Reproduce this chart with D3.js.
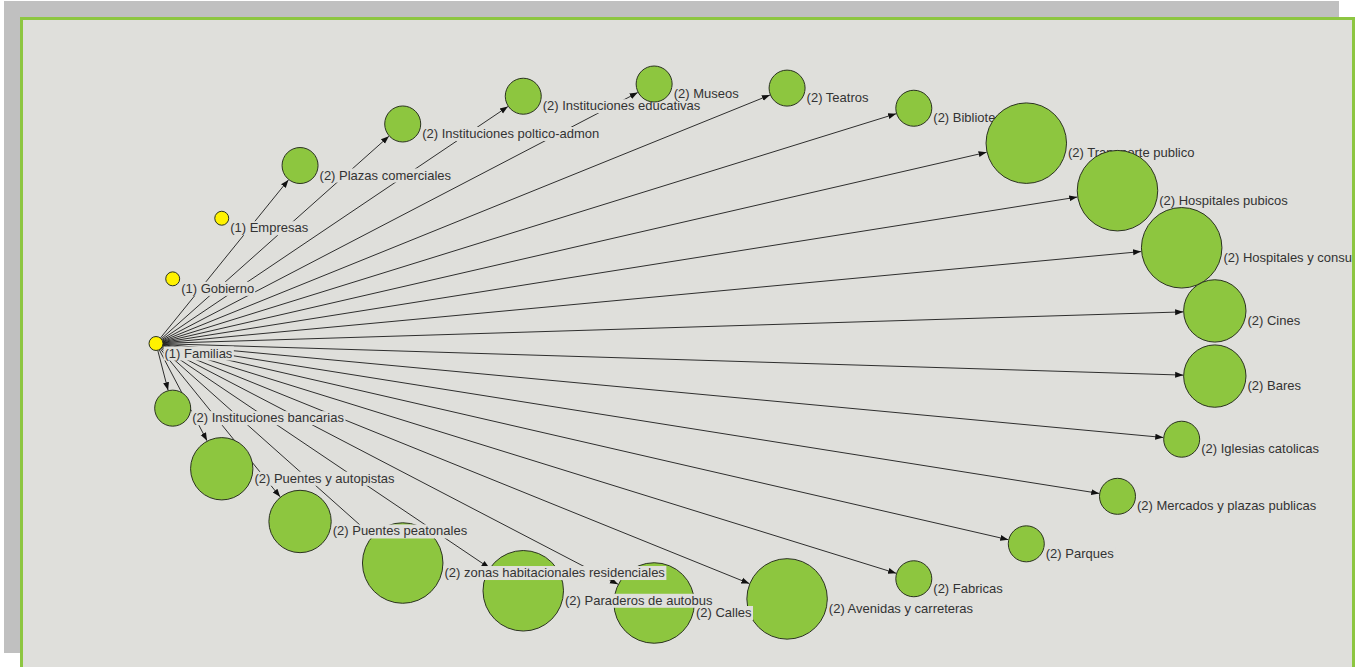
<!DOCTYPE html>
<html><head><meta charset="utf-8">
<script src="https://cdn.jsdelivr.net/npm/d3@7"></script>
<style>html,body{margin:0;padding:0;background:#fff;overflow:hidden}</style>
</head><body><svg id="c" width="1357" height="667"></svg>
<script>
// Nodes in circular-layout order (clockwise starting at the left)
const nodeNames = [
  "Familias","Instituciones bancarias","Puentes y autopistas","Puentes peatonales",
  "zonas habitacionales residenciales","Paraderos de autobus","Calles","Avenidas y carreteras",
  "Fabricas","Parques","Mercados y plazas publicas","Iglesias catolicas","Bares","Cines",
  "Hospitales y consultorios","Hospitales pubicos","Transporte publico","Bibliotecas",
  "Teatros","Museos","Instituciones educativas","Instituciones poltico-admon",
  "Plazas comerciales","Empresas","Gobierno"
];
const nodeGroups = [1,2,2,2,2,2,2,2,2,2,2,2,2,2,2,2,2,2,2,2,2,2,2,1,1];
const nodeSizes  = [0.15,1,3,3,5,5,5,5,1,1,1,1,3,3,5,5,5,1,1,1,1,1,1,0.15,0.15];
const linkSource = "Familias";
const linkTargets = [
  "Instituciones bancarias","Puentes y autopistas","Puentes peatonales",
  "zonas habitacionales residenciales","Paraderos de autobus","Calles","Avenidas y carreteras",
  "Fabricas","Parques","Mercados y plazas publicas","Iglesias catolicas","Bares","Cines",
  "Hospitales y consultorios","Hospitales pubicos","Transporte publico","Bibliotecas",
  "Teatros","Museos","Instituciones educativas","Instituciones poltico-admon","Plazas comerciales"
];

const svg = d3.select("#c");
const W = 1357, H = 667;

// frame
svg.append("rect").attr("x",4).attr("y",1).attr("width",1335).attr("height",652).attr("fill","#c0c0c0");
svg.append("rect").attr("x",21.5).attr("y",18.5).attr("width",1332).attr("height",700)
  .attr("fill","#dfdfdb").attr("stroke","#8dc641").attr("stroke-width",3);

svg.append("defs").append("clipPath").attr("id","clip")
  .append("rect").attr("x",23).attr("y",20).attr("width",1329).attr("height",660);

svg.select("defs").append("marker").attr("id","arr")
  .attr("viewBox","0 -4 8 8").attr("refX",8).attr("refY",0)
  .attr("markerWidth",8).attr("markerHeight",8).attr("markerUnits","userSpaceOnUse")
  .attr("orient","auto")
  .append("path").attr("d","M0,-3L8,0L0,3Z").attr("fill","#111");

const g = svg.append("g").attr("clip-path","url(#clip)");

const n = nodeNames.length;
const xScale = d3.scaleLinear().domain([-1,1]).range([156,1219]);
const yScale = d3.scaleLinear().domain([-1,1]).range([83.5,603.5]);
const rScale = d3.scaleSqrt().domain([0,1]).range([0,18]);
const color = d3.scaleOrdinal().domain([1,2]).range(["#fff200","#8dc63f"]);

const nodes = nodeNames.map((name,i)=>{
  const th = Math.PI - i*2*Math.PI/n;
  return {name, i, group:nodeGroups[i], r:rScale(nodeSizes[i]),
          x:xScale(Math.cos(th)), y:yScale(Math.sin(th))};
});
const byName = new Map(nodes.map(d=>[d.name,d]));

const links = linkTargets.map(t=>({s:byName.get(linkSource), t:byName.get(t)}));

g.append("g").selectAll("line").data(links).join("line")
  .each(function(d){
    const dx=d.t.x-d.s.x, dy=d.t.y-d.s.y, L=Math.hypot(dx,dy);
    const ux=dx/L, uy=dy/L;
    d3.select(this)
      .attr("x1",d.s.x+ux*d.s.r).attr("y1",d.s.y+uy*d.s.r)
      .attr("x2",d.t.x-ux*(d.t.r+0.5)).attr("y2",d.t.y-uy*(d.t.r+0.5));
  })
  .attr("stroke","#1a1a1a").attr("stroke-width",0.9).attr("marker-end","url(#arr)");

const order = nodes.slice().reverse();
const ng = g.append("g").selectAll("g").data(order).join("g");
ng.append("circle").attr("cx",d=>d.x).attr("cy",d=>d.y).attr("r",d=>d.r)
  .attr("fill",d=>color(d.group)).attr("stroke","#2b3320").attr("stroke-width",1);
ng.each(function(d){
  const s = d3.select(this);
  const bg = s.append("rect");
  const t = s.append("text").attr("x",d.x+d.r+1.5).attr("y",d.y+14)
    .attr("font-family","'Liberation Sans', Arial, sans-serif").attr("font-size",13)
    .attr("fill","#333").text("("+d.group+") "+d.name);
  const b = t.node().getBBox();
  bg.attr("x",b.x-1).attr("y",b.y+1).attr("width",b.width+2).attr("height",b.height-1).attr("fill","#dfdfdb");
});
</script></body></html>
